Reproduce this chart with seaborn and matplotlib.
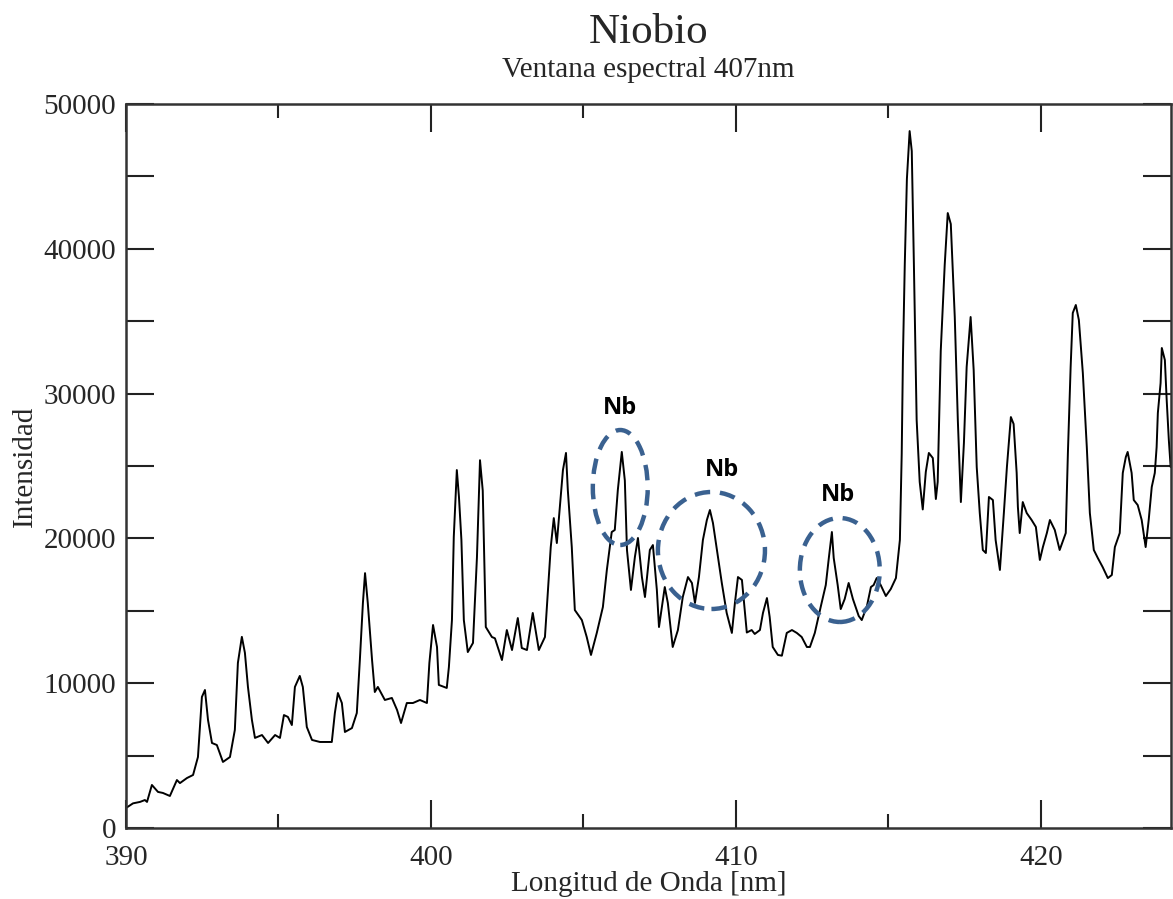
import numpy as np
import pandas as pd
import matplotlib
matplotlib.use("Agg")
import matplotlib.pyplot as plt
from matplotlib.patches import Ellipse
from matplotlib.ticker import MultipleLocator, FixedLocator
import seaborn as sns

# ---------------- data ----------------
wavelength = [
    390.0, 390.23, 390.46, 390.62, 390.69, 390.85, 391.05, 391.21, 391.44, 391.67,
    391.77, 392.0, 392.2, 392.36, 392.49, 392.59, 392.69, 392.82, 392.98, 393.18,
    393.41, 393.57, 393.67, 393.8, 393.9, 394.0, 394.13, 394.23, 394.46, 394.66,
    394.89, 395.05, 395.18, 395.31, 395.44, 395.54, 395.7, 395.8, 395.93, 396.1,
    396.36, 396.75, 396.85, 396.95, 397.08, 397.18, 397.41, 397.57, 397.67, 397.77,
    397.84, 397.93, 398.07, 398.16, 398.26, 398.49, 398.72, 398.89, 399.02, 399.21,
    399.41, 399.64, 399.87, 399.95, 400.07, 400.2, 400.26, 400.52, 400.59, 400.69,
    400.75, 400.85, 400.92, 401.0, 401.08, 401.21, 401.38, 401.51, 401.61, 401.7,
    401.8, 402.0, 402.1, 402.33, 402.49, 402.66, 402.85, 402.98, 403.15, 403.34,
    403.54, 403.74, 403.84, 403.93, 404.03, 404.13, 404.23, 404.33, 404.43, 404.49,
    404.62, 404.72, 404.95, 405.11, 405.25, 405.44, 405.64, 405.77, 405.93, 406.03,
    406.13, 406.26, 406.36, 406.43, 406.56, 406.69, 406.79, 406.92, 407.02, 407.18,
    407.28, 407.41, 407.48, 407.67, 407.77, 407.93, 408.1, 408.26, 408.43, 408.56,
    408.66, 408.79, 408.92, 409.05, 409.15, 409.25, 409.38, 409.54, 409.7, 409.87,
    409.97, 410.07, 410.2, 410.36, 410.52, 410.62, 410.79, 410.89, 411.02, 411.11,
    411.21, 411.38, 411.51, 411.67, 411.84, 412.0, 412.16, 412.33, 412.43, 412.59,
    412.79, 412.95, 413.05, 413.15, 413.21, 413.34, 413.44, 413.57, 413.7, 413.84,
    414.03, 414.13, 414.3, 414.43, 414.52, 414.62, 414.75, 414.92, 415.08, 415.25,
    415.38, 415.44, 415.48, 415.54, 415.61, 415.7, 415.77, 415.84, 415.93, 416.03,
    416.13, 416.23, 416.33, 416.46, 416.56, 416.62, 416.72, 416.85, 416.95, 417.05,
    417.18, 417.28, 417.38, 417.48, 417.57, 417.7, 417.8, 417.9, 418.0, 418.1,
    418.2, 418.3, 418.43, 418.52, 418.66, 418.79, 418.89, 419.02, 419.11, 419.21,
    419.25, 419.31, 419.41, 419.54, 419.7, 419.84, 419.97, 420.07, 420.2, 420.3,
    420.46, 420.62, 420.82, 420.89, 420.98, 421.05, 421.15, 421.25, 421.38, 421.51,
    421.61, 421.74, 421.87, 422.03, 422.2, 422.33, 422.43, 422.59, 422.69, 422.79,
    422.85, 422.98, 423.05, 423.18, 423.31, 423.44, 423.54, 423.64, 423.74, 423.8,
    423.84, 423.93, 423.97, 424.07, 424.13, 424.2, 424.26,
]
intensity = [
    1380, 1700, 1800, 1930, 1800, 2970, 2490, 2420, 2210, 3310,
    3100, 3450, 3660, 4900, 9050, 9530, 7460, 5870, 5730, 4560,
    4900, 6770, 11400, 13200, 12100, 9740, 7460, 6220, 6420, 5870,
    6420, 6220, 7800, 7670, 7110, 9740, 10500, 9740, 6975, 6080,
    5940, 5940, 7940, 9320, 8630, 6630, 6900, 7940, 11600, 15540,
    17600, 15540, 11600, 9390, 9740, 8840, 8980, 8150, 7250, 8630,
    8630, 8840, 8630, 11400, 14020, 12500, 9880, 9670, 11120, 14360,
    20100, 24720, 22860, 19900, 14360, 12150, 12780, 18700, 25400, 23300,
    13880, 13190, 13100, 11600, 13670, 12290, 14500, 12430, 12290, 14850,
    12290, 13190, 16440, 19400, 21400, 19680, 22170, 24720, 25900, 23340,
    19400, 15050, 14360, 13190, 11950, 13470, 15260, 17820, 20440, 20580,
    23340, 25970, 24000, 19200, 16440, 18720, 20030, 17330, 15950, 19200,
    19540, 16440, 13880, 16640, 15540, 12500, 13670, 15950, 17330, 16920,
    15540, 17330, 19890, 21270, 21960, 21060, 19200, 16920, 14850, 13470,
    15540, 17330, 17130, 13500, 13670, 13400, 13670, 14850, 15880, 14570,
    12500, 11950, 11900, 13470, 13670, 13470, 13190, 12500, 12500, 13470,
    15330, 16780, 18650, 20440, 18650, 16780, 15120, 15810, 16920, 15810,
    14640, 14360, 15330, 16640, 16780, 17260, 16780, 16020, 16500, 17260,
    19890, 25830, 32460, 38880, 44820, 48130, 46750, 38880, 28180, 23900,
    22000, 24590, 25900, 25550, 22720, 23900, 32940, 38880, 42470, 41710,
    35290, 28180, 22510, 26590, 31840, 35290, 31630, 24930, 21750, 19200,
    18990, 22860, 22650, 19890, 17820, 21750, 24930, 28380, 27900, 24520,
    22170, 20370, 22510, 21750, 21270, 20790, 18510, 19400, 20370, 21270,
    20580, 19200, 20370, 25900, 31840, 35570, 36120, 35080, 31420, 26310,
    21750, 19200, 18650, 18020, 17260, 17470, 19400, 20370, 24520, 25620,
    25970, 24520, 22650, 22300, 21270, 19400, 21270, 23550, 24520, 26310,
    28660, 30730, 33150, 32320, 29560, 26800, 24930,
]

x_ticks = [390, 400, 410, 420]
y_ticks = [0, 10000, 20000, 30000, 40000, 50000]

# Nb annotations: ellipse centre (nm, intensity), width (nm), height (intensity)
nb_centers_x = [406.21, 409.2, 413.41]
nb_centers_y = [23515, 19164, 17817]
nb_widths = [1.80, 3.51, 2.62]
nb_heights = [7940, 8080, 7180]
nb_label_x = [406.2, 409.54, 413.34]
nb_label_y = [29000, 24720, 23000]
nb_labels = ["Nb", "Nb", "Nb"]

title = "Niobio"
subtitle = "Ventana espectral 407nm"
xlabel = "Longitud de Onda [nm]"
ylabel = "Intensidad"

# ---------------- figure ----------------
sns.set_style("white")
plt.rcParams["font.family"] = ["Liberation Serif", "DejaVu Serif"]

fig = plt.figure(figsize=(11.73, 8.99), dpi=100)
ax = fig.add_axes([0.1074, 0.079, 0.8906, 0.8053])

df = pd.DataFrame({"wl": wavelength, "I": intensity})
sns.lineplot(data=df, x="wl", y="I", ax=ax, color="black", linewidth=1.4,
             estimator=None, sort=False)

ax.set_xlim(390, 424.26)
ax.set_ylim(0, 50000)

ax.xaxis.set_major_locator(FixedLocator(x_ticks))
ax.xaxis.set_minor_locator(MultipleLocator(5))
ax.yaxis.set_major_locator(FixedLocator(y_ticks))
ax.yaxis.set_minor_locator(MultipleLocator(5000))
ax.set_xticklabels([str(v) for v in x_ticks])
ax.set_yticklabels([str(v) for v in y_ticks])

ax.tick_params(axis="both", which="both", direction="in", top=True, right=True,
               bottom=True, left=True, width=1.5, color="#222222")
ax.tick_params(axis="x", which="major", length=20, labelsize=21, pad=12)
ax.tick_params(axis="x", which="minor", length=10)
ax.tick_params(axis="y", which="major", length=20, labelsize=21, pad=7)
ax.tick_params(axis="y", which="minor", length=20)

for s in ax.spines.values():
    s.set_linewidth(1.8)
    s.set_color("#333333")

ax.set_xlabel(xlabel, fontsize=21, labelpad=0)
ax.set_ylabel(ylabel, fontsize=21, labelpad=4)

fig.text(0.553, 0.964, title, ha="center", va="center", fontsize=31)
fig.text(0.553, 0.922, subtitle, ha="center", va="center", fontsize=21)

for cx, cy, w, h in zip(nb_centers_x, nb_centers_y, nb_widths, nb_heights):
    ax.add_patch(Ellipse((cx, cy), w, h, fill=False, edgecolor="#3a6190",
                         linewidth=3.2, linestyle=(0, (3.5, 2.2)), zorder=5))
for lx, ly, t in zip(nb_label_x, nb_label_y, nb_labels):
    ax.text(lx, ly, t, ha="center", va="center", fontsize=17, fontweight="bold",
            family=["Open Sans", "DejaVu Sans"], color="black")

fig.savefig("out.png", dpi=100, facecolor="white")
